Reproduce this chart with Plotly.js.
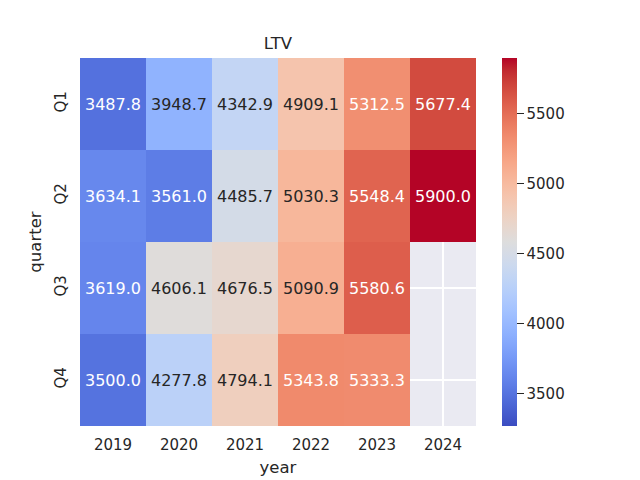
<!DOCTYPE html>
<html><head><meta charset="utf-8">
<script src="https://cdn.plot.ly/plotly-3.0.1.min.js"></script>
<style>body{margin:0;background:#fff}#c{width:640px;height:480px}</style>
</head><body><div id="c"></div>
<script>
const years = ["2019","2020","2021","2022","2023","2024"];
const quarters = ["Q1","Q2","Q3","Q4"];
const q1 = [3487.8, 3948.7, 4342.9, 4909.1, 5312.5, 5677.4];
const q2 = [3634.1, 3561.0, 4485.7, 5030.3, 5548.4, 5900.0];
const q3 = [3619.0, 4606.1, 4676.5, 5090.9, 5580.6, null];
const q4 = [3500.0, 4277.8, 4794.1, 5343.8, 5333.3, null];
const cbTicks = [3500, 4000, 4500, 5000, 5500];
const zMin = 3266, zMax = 5900;

const cw = [[59,76,192],[68,90,204],[77,104,215],[87,117,225],[98,130,234],[108,142,241],[119,154,247],[130,165,251],[141,176,254],[152,185,255],[163,194,255],[174,201,253],[184,208,249],[194,213,244],[204,217,238],[213,219,230],[221,221,221],[229,216,209],[236,211,197],[241,204,185],[245,196,173],[247,187,160],[247,177,148],[247,166,135],[244,154,123],[241,141,111],[236,127,99],[229,112,88],[222,96,77],[213,80,66],[203,62,56],[192,40,47],[180,4,38]];
const colorscale = cw.map((c,i)=>[i/(cw.length-1), `rgb(${c[0]},${c[1]},${c[2]})`]);

function colorAt(v){
  let t = (v - zMin)/(zMax - zMin); t = Math.max(0, Math.min(1, t));
  const p = t*(cw.length-1); const i = Math.min(Math.floor(p), cw.length-2); const f = p - i;
  return cw[i].map((a,k)=>a + (cw[i+1][k]-a)*f);
}
function lum(rgb){
  const c = rgb.map(x=>{x/=255; return x<=0.03928? x/12.92 : Math.pow((x+0.055)/1.055,2.4);});
  return 0.2126*c[0]+0.7152*c[1]+0.0722*c[2];
}

const z = [q1,q2,q3,q4];
const xi = years.map((_,i)=>i);
const yi = quarters.map((_,i)=>i);
const annotations = [];
z.forEach((row,r)=>row.forEach((v,c)=>{
  if(v===null) return;
  const dark = lum(colorAt(v)) > 0.408;
  annotations.push({x: xi[c], y: yi[r], xref:"x", yref:"y", text: v.toFixed(1), showarrow:false,
    font:{family:"DejaVu Sans", size:16, color: dark ? "#262626" : "#ffffff"}});
}));

const data = [{
  type:"heatmap", x: xi, y: yi, z: z,
  zmin: zMin, zmax: zMax, colorscale: colorscale, hoverongaps:false,
  colorbar:{thickness:15, len:368, lenmode:"pixels", y:0.5, yanchor:"middle", ypad:0, xpad:0,
    x:502/640, xref:"container", xanchor:"left",
    outlinewidth:0, ticks:"outside", ticklen:7, tickwidth:1.2, tickcolor:"#262626", tickprefix:"\u00a0",
    tickvals:cbTicks, tickfont:{family:"DejaVu Sans", size:15, color:"#262626"}}
}];

const layout = {
  width:640, height:480,
  margin:{l:80, r:164, t:58, b:54},
  paper_bgcolor:"#ffffff", plot_bgcolor:"#eaeaf2",
  title:{text:"LTV", x:278/640, xanchor:"center", y:1-43/480, yanchor:"middle",
    font:{family:"DejaVu Sans", size:16.5, color:"#262626"}},
  xaxis:{range:[-0.5,5.5], tickvals:xi, ticktext:years, showgrid:true, gridcolor:"#ffffff", gridwidth:1.2, zeroline:false, showline:false,
    ticks:"", ticklabelstandoff:8,
    tickfont:{family:"DejaVu Sans", size:15, color:"#262626"},
    title:{text:"year", standoff:8, font:{family:"DejaVu Sans", size:16.5, color:"#262626"}}},
  yaxis:{range:[3.5,-0.5], tickvals:yi, ticktext:quarters, showgrid:true, gridcolor:"#ffffff", gridwidth:1.2, zeroline:false, showline:false,
    ticks:"", tickangle:-90, ticklabelstandoff:10,
    tickfont:{family:"DejaVu Sans", size:15, color:"#262626"},
    title:{text:"quarter", standoff:6, font:{family:"DejaVu Sans", size:16.5, color:"#262626"}}},
  annotations: annotations
};
Plotly.newPlot("c", data, layout, {displayModeBar:false, staticPlot:true});
</script></body></html>
